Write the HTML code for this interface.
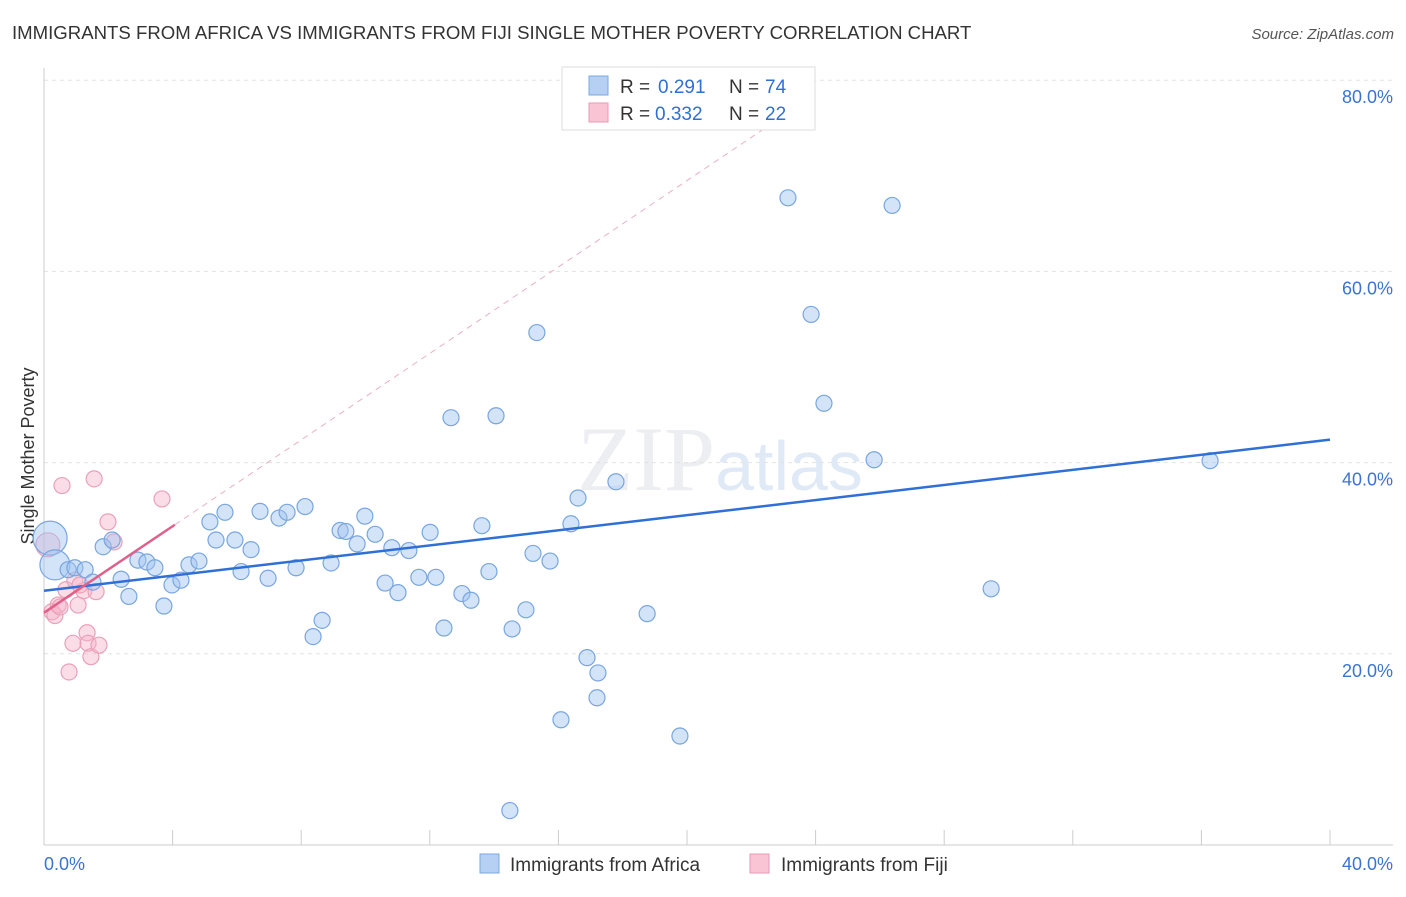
<!DOCTYPE html>
<html><head><meta charset="utf-8"><style>
body{margin:0;background:#fff;font-family:"Liberation Sans",sans-serif;}
</style></head><body>
<svg id="chart" width="1406" height="892" xmlns="http://www.w3.org/2000/svg" style="font-family:'Liberation Sans',sans-serif">
<text x="12" y="39" font-size="18.6" fill="#333">IMMIGRANTS FROM AFRICA VS IMMIGRANTS FROM FIJI SINGLE MOTHER POVERTY CORRELATION CHART</text>
<text x="1394" y="39" font-size="15" fill="#555" text-anchor="end" font-style="italic">Source: ZipAtlas.com</text>
<text x="720" y="490" font-size="92" fill="#eceef2" text-anchor="middle" font-family="Liberation Serif">ZIP<tspan fill="#e0eaf7" font-family="Liberation Sans" font-size="70">atlas</tspan></text>
<text transform="translate(34,456) rotate(-90)" font-size="18" fill="#333" text-anchor="middle">Single Mother Poverty</text>
<g id="grid"></g><g id="axes"></g><g id="marks"></g>
<g>
<rect x="562" y="67" width="253" height="63" fill="#fff" stroke="#ddd"/>
<rect x="589" y="76" width="19" height="19" fill="#b5d0f3" stroke="#7aa8e0"/>
<text x="620" y="93" font-size="19" fill="#333">R =</text><text x="658" y="93" font-size="19" fill="#2f6fd6">0.291</text>
<text x="729" y="93" font-size="19" fill="#333">N =</text><text x="765" y="93" font-size="19" fill="#2f6fd6">74</text>
<rect x="589" y="103" width="19" height="19" fill="#f9c5d5" stroke="#e89ab3"/>
<text x="620" y="120" font-size="19" fill="#333">R =</text><text x="655" y="120" font-size="19" fill="#2f6fd6">0.332</text>
<text x="729" y="120" font-size="19" fill="#333">N =</text><text x="765" y="120" font-size="19" fill="#2f6fd6">22</text>
</g>
<g>
<rect x="480" y="854" width="19" height="19" fill="#b5d0f3" stroke="#7aa8e0"/>
<text x="510" y="871" font-size="19" fill="#333">Immigrants from Africa</text>
<rect x="750" y="854" width="19" height="19" fill="#f9c5d5" stroke="#e89ab3"/>
<text x="781" y="871" font-size="19" fill="#333">Immigrants from Fiji</text>
</g>
</svg>
<script>
const africaX=[0.19,0.34,0.75,0.96,1.28,1.52,1.84,2.12,2.40,2.64,2.92,3.20,3.45,3.73,3.98,4.26,4.51,4.82,5.16,5.35,5.63,5.94,6.13,6.44,6.72,6.97,7.31,7.56,7.84,8.12,8.37,8.65,8.93,9.21,9.39,9.74,9.98,10.30,10.61,10.82,11.01,11.35,11.66,12.01,12.19,12.44,12.66,13.00,13.28,13.62,13.84,14.06,14.56,14.99,15.21,15.33,15.74,16.08,16.39,16.61,16.89,17.23,17.20,17.79,18.76,19.78,14.49,23.14,23.86,24.26,25.82,26.38,29.46,36.27];
const africaY=[32.1,29.3,28.8,29.0,28.8,27.5,31.2,31.9,27.8,26.0,29.8,29.6,29.0,25.0,27.2,27.7,29.3,29.7,33.8,31.9,34.8,31.9,28.6,30.9,34.9,27.9,34.2,34.8,29.0,35.4,21.8,23.5,29.5,32.9,32.8,31.5,34.4,32.5,27.4,31.1,26.4,30.8,28.0,32.7,28.0,22.7,44.7,26.3,25.6,33.4,28.6,44.9,22.6,24.6,30.5,53.6,29.7,13.1,33.6,36.3,19.6,18.0,15.4,38.0,24.2,11.4,3.6,67.7,55.5,46.2,40.3,66.9,26.8,40.2];
const fijiX=[0.12,0.25,0.34,0.44,0.56,0.78,0.90,1.06,1.24,1.34,1.37,1.46,1.56,1.62,1.71,1.99,2.18,3.67,0.50,0.68,0.96,1.12];
const fijiY=[31.4,24.4,24.0,25.1,37.6,18.1,21.1,25.1,26.6,22.2,21.1,19.7,38.3,26.5,20.9,33.8,31.7,36.2,24.9,26.7,27.7,27.2];
const yTicks=[20,40,60,80];
const yTickLabels=["20.0%","40.0%","60.0%","80.0%"];
const africaTrend=[26.6,0.395];
const fijiTrend=[24.3,2.26];
const NS="http://www.w3.org/2000/svg";
const sx=v=>44+v*32.15, sy=v=>845-v*9.56;
function mk(tag,attrs,parent){const e=document.createElementNS(NS,tag);for(const k in attrs)e.setAttribute(k,attrs[k]);document.getElementById(parent).appendChild(e);return e;}
yTicks.forEach((t,i)=>{
 const g=mk('line',{x1:44,x2:1393,y1:sy(t),y2:sy(t),stroke:'#e2e2e2','stroke-dasharray':'4,4'},'grid');
 
 
 const l=mk('text',{x:1393,y:sy(t)+23,'font-size':18,fill:'#3b73d1','text-anchor':'end'},'axes');l.textContent=yTickLabels[i];
 
 
});
let a=mk('line',{x1:44,x2:44,y1:68,y2:845,stroke:'#ccc'},'axes');


a=mk('line',{x1:44,x2:1393,y1:845,y2:845,stroke:'#ccc'},'axes');


for(let i=1;i<=10;i++){const t=mk('line',{x1:sx(i*4),x2:sx(i*4),y1:830,y2:845,stroke:'#ccc'},'axes');
 
 }
let xl=mk('text',{x:44,y:870,'font-size':18,fill:'#3b73d1'},'axes');xl.textContent='0.0%';


xl=mk('text',{x:1393,y:870,'font-size':18,fill:'#3b73d1','text-anchor':'end'},'axes');xl.textContent='40.0%';


fijiX.forEach((x,i)=>{const c=mk('circle',{cx:sx(x),cy:sy(fijiY[i]),r:i==0?12:8,fill:'rgba(247,180,202,0.45)',stroke:'#eaa0b8','stroke-width':1.2},'marks');
 
 });
africaX.forEach((x,i)=>{const c=mk('circle',{cx:sx(x),cy:sy(africaY[i]),r:i==0?17:(i==1?15:8),fill:'rgba(160,196,240,0.45)',stroke:'#78a6df','stroke-width':1.2},'marks');
 
 });
let ln=mk('line',{x1:sx(0),y1:sy(africaTrend[0]),x2:sx(40),y2:sy(africaTrend[0]+africaTrend[1]*40),stroke:'#2f6fd6','stroke-width':2.5},'marks');


const fx2=(76-fijiTrend[0])/fijiTrend[1];
ln=mk('line',{x1:sx(4.07),y1:sy(fijiTrend[0]+fijiTrend[1]*4.07),x2:sx(fx2),y2:sy(76),stroke:'#eab0c3','stroke-width':1,'stroke-dasharray':'6,5'},'marks');


ln=mk('line',{x1:sx(0),y1:sy(fijiTrend[0]),x2:sx(4.07),y2:sy(fijiTrend[0]+fijiTrend[1]*4.07),stroke:'#e0608a','stroke-width':2.5},'marks');


</script>
</body></html>
